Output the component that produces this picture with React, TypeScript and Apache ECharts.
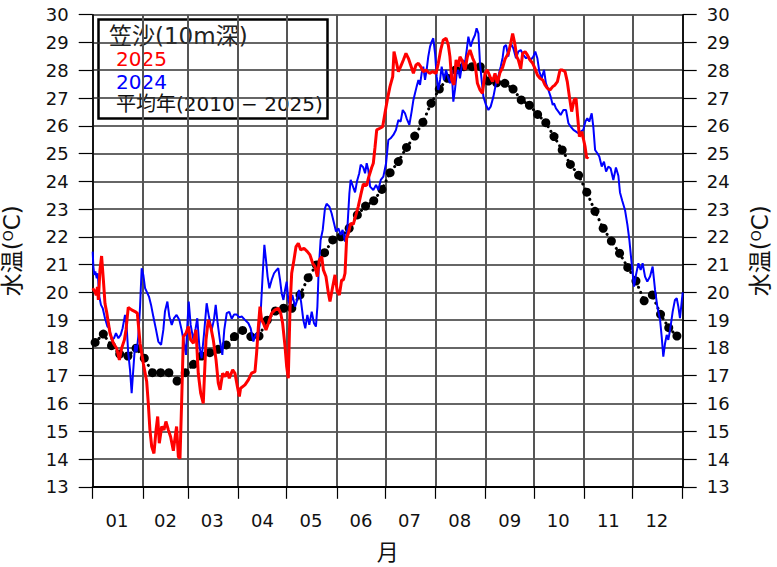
import React, { useEffect, useRef } from "react";
import * as echarts from "echarts";

const monthLabels = ["01", "02", "03", "04", "05", "06", "07", "08", "09", "10", "11", "12"];
const monthStartDays = [0, 31, 59, 90, 120, 151, 181, 212, 243, 273, 304, 334, 365];
const monthMidDays = [15, 45, 74, 105, 135, 166, 196, 227, 258, 288, 319, 349];

// 平均年 (2010-2025): 72 pentad values
const avgTemps = [
  18.2, 18.5, 18.08, 17.78, 17.71, 17.99, 17.63, 17.11, 17.11, 17.11, 16.81, 17.11,
  17.41, 17.71, 17.83, 17.95, 18.11, 18.41, 18.63, 18.41, 18.43, 19.0, 19.33, 19.43,
  19.43, 19.91, 20.53, 20.99, 21.43, 21.89, 22.0, 22.31, 22.79, 23.11, 23.3, 23.71,
  24.31, 24.71, 25.22, 25.63, 26.13, 26.81, 27.32, 27.71, 28.01, 28.13, 28.13, 28.13,
  27.61, 27.55, 27.53, 27.32, 26.93, 26.74, 26.41, 26.11, 25.61, 25.13, 24.61, 24.22,
  23.61, 22.92, 22.31, 21.85, 21.41, 20.9, 20.41, 19.7, 19.91, 19.21, 18.73, 18.43,
];

// 2025: [day of year, temperature]
const temps2025: [number, number][] = [
  [0, 20.15], [1.4, 20.03], [2.2, 19.9], [2.9, 20.2], [3.5, 19.73], [4.5, 20.8], [5.5, 21.31], [6.6, 20.45],
  [7.6, 19.6], [8.6, 19.3], [10.7, 18.53], [12.8, 18.17], [14.8, 17.99], [16.5, 17.57], [17.9, 17.99],
  [19.6, 18.29], [20.6, 18.65], [22.0, 19.46], [24.1, 19.37], [26.2, 19.31], [27.6, 19.25], [29.3, 18.17],
  [31.3, 17.45], [33.4, 16.79], [34.4, 16.0], [35.4, 15.05], [36.5, 14.45], [37.9, 14.2], [39.2, 15.05],
  [40.2, 15.53], [41.2, 14.57], [42.7, 15.17], [44.1, 15.05], [45.3, 15.35], [46.8, 15.05], [48.2, 14.8],
  [49.9, 14.3], [50.9, 14.75], [51.9, 15.17], [53.0, 14.08], [54.0, 14.02], [55.0, 16.0], [56.1, 18.41],
  [57.7, 18.53], [59.2, 18.77], [60.6, 18.29], [62.3, 18.17], [63.9, 18.65], [65.3, 17.09], [66.8, 16.37],
  [68.4, 16.0], [70.1, 18.29], [71.5, 19.01], [73.2, 18.71], [74.6, 18.29], [76.3, 17.57], [77.7, 16.73],
  [78.8, 16.49], [80.4, 17.09], [81.8, 16.97], [83.3, 17.15], [84.5, 16.91], [86.6, 17.21], [88.0, 17.09],
  [89.5, 16.61], [90.7, 16.25], [91.5, 16.55], [94.2, 16.67], [96.3, 16.85], [98.3, 17.09], [100.4, 17.15],
  [101.4, 17.81], [102.5, 18.77], [103.5, 19.49], [104.5, 19.01], [105.6, 18.89], [107.2, 18.65],
  [108.7, 18.89], [110.7, 19.25], [112.8, 19.37], [114.8, 19.43], [116.3, 19.25], [117.5, 18.89],
  [119.0, 18.05], [120.0, 17.33], [121.0, 16.91], [122.1, 19.49], [123.1, 20.69], [124.5, 21.17],
  [125.8, 21.65], [127.2, 21.77], [128.7, 21.53], [130.7, 21.59], [132.8, 21.47], [134.4, 21.35],
  [136.1, 21.05], [137.5, 20.93], [139.0, 20.57], [140.2, 21.17], [141.7, 21.29], [142.7, 20.81],
  [144.3, 20.57], [145.8, 19.97], [146.8, 19.67], [148.5, 20.21], [149.9, 20.63], [151.3, 20.03],
  [152.6, 19.91], [154.0, 20.45], [155.1, 20.45], [156.1, 20.69], [157.1, 21.95], [158.2, 22.13],
  [159.6, 22.49], [161.2, 22.45], [162.9, 22.8], [164.3, 23.1], [165.8, 23.5], [167.4, 23.9], [169.5, 23.85],
  [170.5, 24.1], [172.6, 24.5], [173.6, 24.65], [174.6, 25.2], [175.7, 25.85], [177.7, 25.91], [179.4, 25.97],
  [180.8, 26.45], [182.3, 26.95], [183.9, 27.41], [185.6, 27.77], [186.4, 28.67], [187.6, 28.37],
  [189.1, 27.95], [190.5, 28.13], [192.2, 28.37], [193.8, 28.61], [195.3, 28.43], [196.7, 28.19],
  [198.4, 27.89], [200.0, 28.19], [201.5, 28.25], [202.9, 28.13], [204.5, 27.95], [206.2, 28.01],
  [208.3, 27.89], [210.3, 27.95], [212.4, 27.89], [213.8, 28.25], [215.3, 28.73], [216.9, 29.09],
  [218.6, 29.15], [220.0, 28.91], [221.0, 28.49], [222.1, 27.65], [223.5, 27.47], [224.8, 28.37],
  [226.2, 28.13], [227.2, 28.49], [228.9, 28.31], [230.3, 28.01], [231.8, 28.49], [233.4, 28.73],
  [235.1, 28.43], [236.5, 28.25], [238.0, 27.53], [239.6, 27.29], [241.1, 27.17], [242.7, 27.89],
  [244.1, 28.01], [245.8, 27.77], [247.4, 27.59], [248.9, 27.89], [250.3, 27.53], [252.0, 27.92],
  [253.6, 28.1], [255.1, 28.4], [257.1, 28.61], [258.6, 28.97], [259.8, 29.32], [261.1, 28.97],
  [262.3, 28.49], [263.3, 28.37], [264.8, 28.05], [266.0, 28.61], [267.5, 28.67], [268.9, 28.55],
  [270.5, 28.37], [272.2, 28.25], [273.6, 28.07], [275.1, 27.83], [276.7, 27.71], [278.4, 27.65],
  [279.8, 27.47], [281.3, 27.35], [282.9, 27.29], [284.6, 27.41], [286.0, 27.47], [287.5, 27.59],
  [289.1, 28.01], [290.5, 28.01], [292.2, 27.95], [293.6, 27.59], [294.9, 27.05], [296.3, 26.51],
  [297.8, 26.93], [299.0, 26.99], [300.0, 26.33], [301.1, 25.61], [302.5, 25.79], [303.5, 25.55],
  [304.6, 25.25], [305.6, 24.83], [306.6, 24.89],
];

// 2024: [day of year, temperature]
const temps2024: [number, number][] = [
  [0, 21.47], [0.4, 20.93], [1.0, 20.63], [1.6, 20.75], [2.5, 20.51], [3.1, 20.69], [4.1, 19.85], [5.1, 19.55],
  [6.2, 19.43], [7.6, 19.07], [9.1, 18.77], [10.3, 18.71], [11.7, 18.29], [13.2, 18.35], [14.4, 18.53],
  [15.9, 18.35], [17.3, 18.47], [18.5, 18.71], [20.0, 19.19], [21.0, 18.77], [22.0, 17.81], [23.1, 17.21],
  [24.1, 16.37], [25.1, 17.21], [26.2, 18.11], [27.2, 17.87], [28.2, 18.41], [29.3, 19.49], [30.3, 20.87],
  [31.3, 20.63], [32.4, 20.15], [33.4, 20.03], [34.8, 19.85], [36.1, 19.55], [37.5, 19.13], [39.2, 18.65],
  [40.6, 18.23], [42.3, 18.11], [43.7, 18.65], [44.7, 19.31], [46.2, 19.67], [47.4, 19.13], [48.9, 18.83],
  [50.3, 19.07], [51.9, 19.19], [53.6, 19.01], [55.0, 18.65], [56.5, 18.17], [57.7, 17.75], [58.5, 18.77],
  [59.4, 19.67], [60.6, 18.83], [62.3, 18.29], [63.7, 18.71], [64.7, 19.07], [66.0, 18.05], [67.4, 17.63],
  [68.9, 18.53], [70.5, 19.61], [71.9, 19.13], [73.6, 18.65], [75.0, 19.01], [76.1, 19.55], [77.3, 18.89],
  [78.8, 18.23], [80.2, 17.75], [81.4, 18.65], [82.9, 19.25], [84.5, 19.3], [86.0, 19.05], [87.4, 19.2],
  [89.1, 19.2], [90.7, 19.1], [92.2, 19.13], [94.2, 19.01], [96.3, 18.89], [97.7, 18.71], [99.4, 18.23],
  [101.0, 18.53], [102.5, 18.41], [103.9, 19.25], [105.2, 20.69], [106.2, 21.71], [107.2, 21.17],
  [108.2, 20.57], [109.3, 20.15], [110.7, 20.45], [112.2, 20.69], [113.8, 20.81], [114.8, 20.87],
  [115.9, 20.45], [116.9, 19.97], [118.0, 19.73], [119.0, 20.09], [120.0, 20.39], [121.0, 19.73],
  [122.1, 19.49], [123.5, 19.91], [125.2, 19.49], [126.2, 19.67], [127.6, 20.09], [128.9, 19.67],
  [130.3, 19.01], [131.5, 18.71], [132.8, 19.19], [134.0, 18.83], [135.5, 19.31], [136.9, 18.89],
  [138.1, 18.77], [139.0, 19.49], [139.8, 20.81], [141.0, 21.89], [142.3, 22.25], [143.7, 23.03],
  [144.7, 23.19], [146.4, 23.09], [147.8, 22.85], [149.3, 22.49], [150.5, 22.19], [152.0, 22.31],
  [153.4, 22.07], [154.6, 22.25], [156.1, 21.83], [157.5, 22.25], [158.8, 23.57], [159.6, 24.05],
  [160.8, 23.85], [162.3, 23.6], [163.5, 24.0], [164.9, 24.29], [165.8, 24.6], [167.4, 24.5], [168.5, 24.29],
  [169.5, 24.65], [170.5, 24.41], [171.6, 23.81], [173.6, 23.69], [175.3, 23.87], [176.7, 23.69],
  [178.2, 24.05], [179.8, 24.17], [181.5, 24.65], [182.9, 25.49], [184.3, 25.55], [186.0, 25.67],
  [187.6, 25.85], [189.1, 26.21], [190.5, 26.15], [191.8, 26.57], [193.2, 26.45], [194.2, 26.27],
  [195.9, 26.03], [197.3, 26.51], [198.4, 26.93], [199.4, 27.17], [200.4, 27.41], [201.5, 27.65],
  [202.5, 27.47], [203.5, 27.89], [204.5, 28.13], [205.6, 27.65], [206.6, 28.01], [207.6, 28.49],
  [208.7, 28.85], [209.7, 29.03], [210.7, 29.15], [211.8, 28.61], [212.8, 27.77], [213.8, 27.29],
  [214.9, 27.65], [215.9, 28.13], [217.3, 27.65], [218.6, 28.01], [220.0, 27.71], [221.0, 27.53],
  [222.1, 28.01], [223.1, 26.87], [224.1, 27.29], [225.2, 27.89], [226.2, 28.01], [227.2, 27.71],
  [228.9, 28.37], [230.3, 28.25], [231.4, 28.73], [232.4, 29.21], [233.8, 28.85], [235.1, 29.09],
  [236.5, 29.27], [237.5, 29.51], [238.6, 29.33], [239.6, 28.25], [240.6, 27.65], [241.7, 27.05],
  [243.3, 26.75], [244.8, 26.57], [246.2, 26.69], [247.9, 27.05], [249.5, 27.53], [250.9, 27.77],
  [252.4, 28.13], [253.6, 28.45], [254.5, 28.85], [255.7, 28.91], [257.1, 28.49], [258.6, 28.97],
  [260.2, 28.79], [261.9, 28.43], [263.3, 28.67], [264.8, 28.73], [266.4, 28.55], [268.1, 28.43],
  [269.5, 28.49], [271.0, 28.37], [272.6, 28.49], [273.8, 28.67], [275.1, 28.43], [276.3, 27.95],
  [277.8, 27.71], [279.2, 28.01], [280.4, 27.53], [281.9, 27.29], [283.3, 27.05], [284.6, 26.75],
  [285.4, 26.81], [286.6, 26.63], [288.1, 26.51], [289.5, 26.39], [291.2, 26.57], [292.8, 26.57],
  [294.3, 26.09], [295.7, 25.97], [297.4, 25.85], [299.0, 25.79], [300.4, 25.73], [301.9, 25.79],
  [303.5, 25.85], [304.8, 26.15], [306.0, 26.27], [307.2, 26.15], [308.7, 26.45], [309.7, 25.97],
  [310.8, 25.13], [312.2, 25.01], [313.4, 24.89], [314.9, 24.53], [316.3, 24.71], [317.6, 24.35],
  [319.0, 24.53], [320.4, 24.47], [322.1, 24.05], [323.7, 24.5], [325.2, 24.2], [326.2, 23.6],
  [327.6, 23.3], [329.3, 22.97], [330.8, 22.43], [332.0, 21.89], [333.4, 21.05], [334.9, 20.21],
  [336.1, 20.63], [337.6, 21.05], [339.0, 20.81], [340.2, 21.05], [341.7, 20.57], [343.1, 20.39],
  [344.8, 20.57], [346.4, 20.93], [347.9, 20.09], [349.3, 19.49], [351.0, 19.01], [352.0, 18.41],
  [353.0, 17.69], [354.1, 18.17], [355.1, 18.47], [356.1, 18.29], [357.2, 18.65], [358.8, 19.31],
  [360.2, 19.73], [361.3, 19.79], [362.3, 19.49], [363.3, 19.07], [364.4, 19.67], [365.0, 20.0],
];

const FONT = "'DejaVu Sans', 'Noto Sans CJK JP', sans-serif";

export default function App() {
  const ref = useRef<HTMLDivElement>(null);

  useEffect(() => {
    if (!ref.current) return;
    const chart = echarts.init(ref.current, undefined, { renderer: "svg" });

    const startSet = new Set(monthStartDays);
    const midMap: Record<number, string> = {};
    monthMidDays.forEach((d, i) => (midMap[d] = monthLabels[i]));
    const dayCats = Array.from({ length: 366 }, (_, i) => String(i));

    const avgData = avgTemps.map((v, k) => [(k * 365) / 72 + 1.5, v]);

    const yAxisBase = (pos: "left" | "right") => ({
      type: "value",
      position: pos,
      min: 13,
      max: 30,
      interval: 1,
      axisLine: { show: true, lineStyle: { color: "#000", width: 1.5 } },
      axisTick: { show: true, length: 14, lineStyle: { color: "#000", width: 1.2 } },
      axisLabel: { fontSize: 18, color: "#111", margin: 24, fontFamily: FONT },
      splitLine: { show: pos === "left", lineStyle: { color: "#333", width: 1.5 } },
      name: "水温({sup|O}C)",
      nameLocation: "middle",
      nameRotate: 90,
      nameGap: pos === "left" ? 69 : 66,
      nameTextStyle: {
        fontSize: 23,
        color: "#111",
        fontFamily: FONT,
        rich: {
          sup: { fontSize: 14, color: "#111", fontFamily: FONT, verticalAlign: "top", lineHeight: 23, padding: [0, 0, 9, 0] },
        },
      },
    });

    chart.setOption({
      animation: false,
      backgroundColor: "#fff",
      grid: { left: 92.7, right: 94.3, top: 14.7, bottom: 80.2, containLabel: false, outerBoundsMode: "none" },
      xAxis: [
        {
          type: "value",
          min: 0,
          max: 365,
          axisLine: { show: false },
          axisTick: { show: false },
          axisLabel: { show: false },
          splitLine: { show: false },
        },
        {
          type: "category",
          data: dayCats,
          boundaryGap: false,
          position: "bottom",
          axisLine: { show: true, lineStyle: { color: "#000", width: 2 } },
          axisTick: {
            show: true,
            interval: (i: number) => startSet.has(i),
            length: 12,
            lineStyle: { color: "#000", width: 1.2 },
          },
          axisLabel: {
            interval: (i: number) => midMap[i] !== undefined,
            formatter: (_v: string, i: number) => midMap[i] ?? "",
            fontSize: 18,
            color: "#111",
            margin: 25,
            fontFamily: FONT,
          },
          splitLine: {
            show: true,
            interval: (i: number) => startSet.has(i),
            lineStyle: { color: "#555", width: 2 },
          },
          name: "月",
          nameLocation: "middle",
          nameGap: 55,
          nameTextStyle: { fontSize: 22, color: "#111", fontFamily: FONT },
        },
      ],
      yAxis: [yAxisBase("left"), yAxisBase("right")],
      series: [
        {
          name: "平均年(2010 − 2025)",
          type: "line",
          xAxisIndex: 0,
          yAxisIndex: 0,
          data: avgData,
          symbol: "circle",
          symbolSize: 9,
          itemStyle: { color: "#000" },
          lineStyle: { color: "#000", width: 3, type: [0.1, 5.5], cap: "round" },
          z: 2,
        },
        {
          name: "2024",
          type: "line",
          xAxisIndex: 0,
          yAxisIndex: 0,
          data: temps2024,
          showSymbol: false,
          lineStyle: { color: "#0000ff", width: 2 },
          z: 3,
        },
        {
          name: "2025",
          type: "line",
          xAxisIndex: 0,
          yAxisIndex: 0,
          data: temps2025,
          showSymbol: false,
          lineStyle: { color: "#ff0000", width: 3 },
          z: 4,
        },
      ],
      graphic: [
        {
          type: "group",
          z: 100,
          children: [
            {
              type: "rect",
              shape: { x: 98.5, y: 19.5, width: 229, height: 99 },
              style: { fill: "#fff", stroke: "#000", lineWidth: 2.5 },
            },
            {
              type: "text",
              x: 109,
              y: 36,
              style: { text: "笠沙(10m深)", fontSize: 23, lineHeight: 22, fill: "#222", fontFamily: FONT, textVerticalAlign: "middle" },
            },
            {
              type: "text",
              x: 116,
              y: 59,
              style: { text: "2025", fontSize: 20, lineHeight: 20, fill: "#ff0000", fontFamily: FONT, textVerticalAlign: "middle" },
            },
            {
              type: "text",
              x: 116,
              y: 81.5,
              style: { text: "2024", fontSize: 20, lineHeight: 20, fill: "#0000ff", fontFamily: FONT, textVerticalAlign: "middle" },
            },
            {
              type: "text",
              x: 116,
              y: 104,
              style: { text: "平均年(2010 − 2025)", fontSize: 20, lineHeight: 20, fill: "#111", fontFamily: FONT, textVerticalAlign: "middle" },
            },
          ],
        },
      ],
    });

    return () => chart.dispose();
  }, []);

  return <div ref={ref} style={{ width: 777, height: 567, position: "absolute", left: 0, top: 0 }} />;
}
